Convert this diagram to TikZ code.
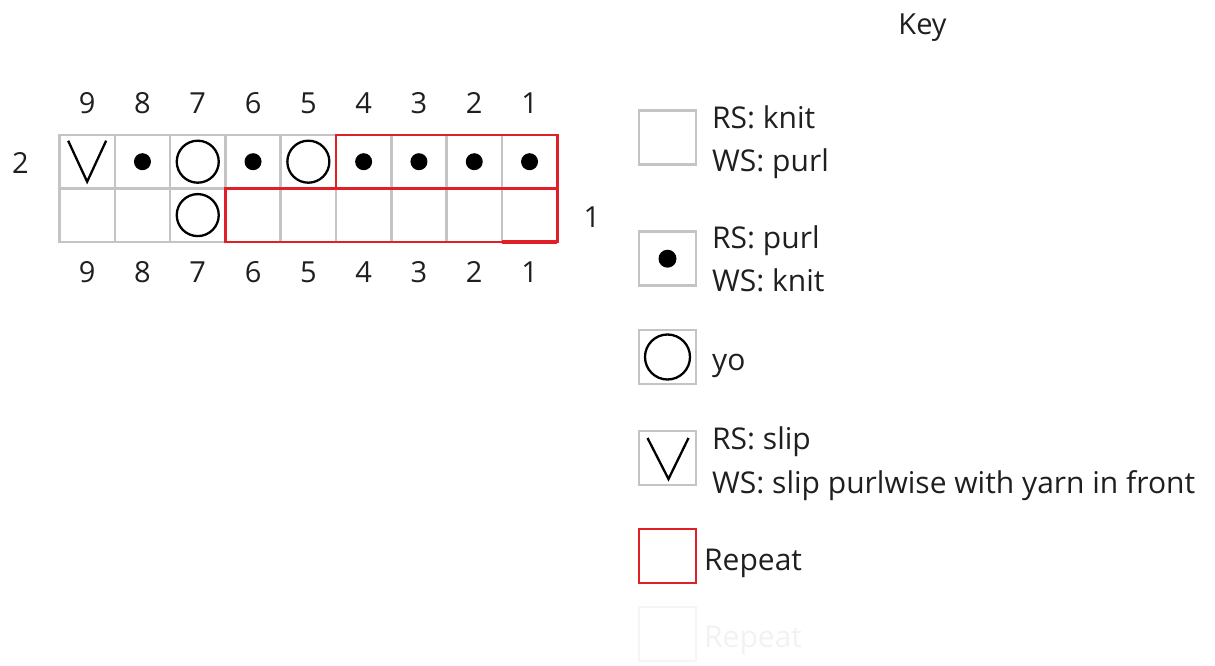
\documentclass[tikz,border=0pt]{standalone}
\usepackage{fontspec}
\setmainfont{Open Sans}
\usetikzlibrary{positioning,calc}

\definecolor{gridgray}{RGB}{196,196,196}
\definecolor{repred}{RGB}{224,32,38}

\tikzset{
  cell/.style={draw=gridgray,line width=2.6pt,minimum width=55.3pt,minimum height=53.4pt,inner sep=0pt,outer sep=0pt},
  keybox/.style={draw=gridgray,line width=2.6pt,minimum width=57pt,minimum height=54pt,inner sep=0pt,outer sep=0pt},
  num/.style={font=\fontsize{29}{34}\selectfont,text=black!88,inner sep=0pt},
  keytext/.style={font=\fontsize{30}{43.5}\selectfont,text=black!88,align=left,inner sep=0pt},
  stitch/.style={draw=black,line width=2.3pt},
  repeatline/.style={draw=repred,line width=2.6pt},
}

\begin{document}
\begin{tikzpicture}[x=1pt,y=-1pt]
\useasboundingbox (0,0) rectangle (1215,666);

% chart, column 9 on the left
\foreach \c in {1,...,9}{
  \pgfmathsetmacro{\cx}{59.5+55.3*(9-\c)+27.65}
  \node[cell] (r2c\c) at (\cx,161.7) {};
  \node[cell] (r1c\c) at (\cx,215.1) {};
  \node[num] (top\c) at (\cx,103) {\c};
  \node[num] (bot\c) at (\cx,272) {\c};
}
\node[num] (row2) at (20.5,163) {2};
\node[num] (row1) at (592,217) {1};

% stitches
\draw[stitch] ($(r2c9)+(-19,-21)$) -- ($(r2c9)+(0,20)$) -- ($(r2c9)+(19,-21)$);
\foreach \c in {8,6,4,3,2,1}
  \fill (r2c\c) circle (8.5pt);
\draw[stitch] (r2c7) circle (21pt);
\draw[stitch] (r2c5) circle (21pt);
\draw[stitch] (r1c7) circle (21pt);

% repeat outlines
\draw[repeatline] (r2c4.north west) rectangle (r2c1.south east);
\draw[repeatline] (r1c6.north west) rectangle (r1c1.south east);
\draw[repeatline,line width=3.6pt] (r1c1.north west) -- (r1c1.north east)
  (r1c1.south west) -- (r1c1.south east);

% key
\node[num] (keyttl) at (922.5,28) {Key};

\node[keybox] (keyk) at (667.5,137.5) {};
\node[keybox] (keyp) at (667.5,258.7) {};
\node[keybox] (keyyo) at (667.5,357) {};
\node[keybox] (keysl) at (667.5,458) {};
\node[keybox,draw=repred] (keyrep) at (667.5,556) {};
\node[keybox,draw=black!4] (keyghost) at (667.5,634) {};

\fill (keyp) circle (9pt);
\draw[stitch] (keyyo) circle (22.5pt);
\draw[stitch] ($(keysl)+(-20,-20)$) -- ($(keysl)+(1,21)$) -- ($(keysl)+(21,-20)$);

\node[keytext,right=16pt of keyk,yshift=-4.7pt] (txtk) {RS: knit\\WS: purl};
\node[keytext,right=16pt of keyp,yshift=0pt] (txtp) {RS: purl\\WS: knit};
\node[keytext,right=16pt of keyyo,yshift=-8.6pt] (txtyo) {yo};
\node[keytext,right=16pt of keysl,yshift=-5.7pt] (txtsl) {RS: slip\\WS: slip purlwise with yarn in front};
\node[keytext,right=8pt of keyrep,yshift=-6.9pt] (txtrep) {Repeat};
\node[keytext,right=8pt of keyghost,yshift=-6pt,text=black!5] (txtghost) {Repeat};
\end{tikzpicture}
\end{document}
